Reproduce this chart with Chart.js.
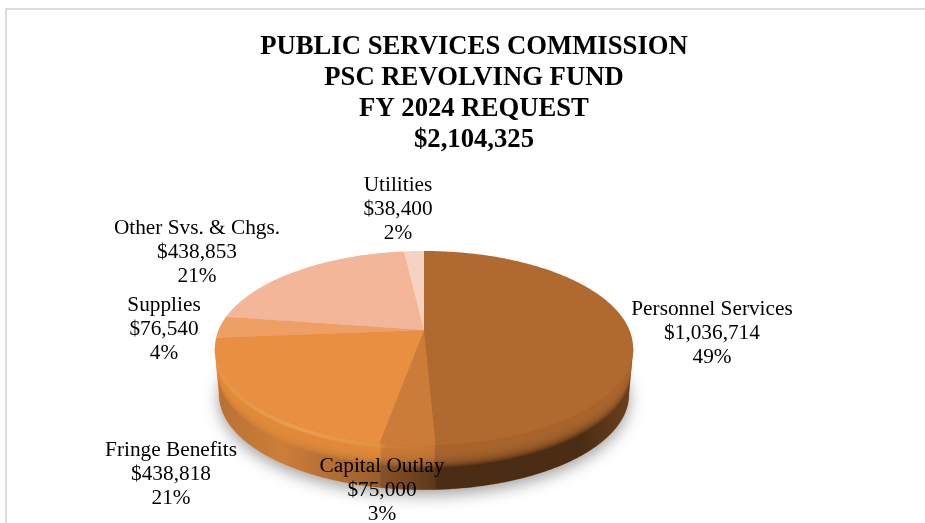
<!DOCTYPE html>
<html lang="en">
<head>
    <meta charset="UTF-8">
    <title>PSC Revolving Fund FY 2024 Request</title>
    <script src="https://cdn.jsdelivr.net/npm/chart.js"></script>
    <style>
        html, body {
            margin: 0;
            background: white;
            overflow: hidden;
        }

        .frame {
            position: absolute;
            left: 5px;
            top: 8px;
            width: 920px;
            height: 515px;
            border-left: 2px solid #dcdcdc;
            border-top: 2px solid #dcdcdc;
            box-sizing: border-box;
        }

        #pie {
            position: absolute;
            left: 0;
            top: 0;
        }
    </style>
</head>
<body>
    <div class="frame"></div>
    <canvas id="pie" width="925" height="523"></canvas>

    <script>
        const titleLines = ['PUBLIC SERVICES COMMISSION', 'PSC REVOLVING FUND', 'FY 2024 REQUEST', '$2,104,325'];
        const categories = ['Personnel Services', 'Capital Outlay', 'Fringe Benefits', 'Supplies', 'Other Svs. & Chgs.', 'Utilities'];
        const amounts = [1036714, 75000, 438818, 76540, 438853, 38400];
        const percents = ['49%', '3%', '21%', '4%', '21%', '2%'];

        const faceColors = ['#b06a2f', '#cc7c39', '#e98f41', '#ed9f66', '#f3b699', '#f5d2c2'];
        // where each label block is centred (x, first line y)
        const labelSpots = [[712, 309], [382, 466], [171, 450], [164, 305], [197, 228], [398, 185]];

        // perspective disc: apex sits above the middle of the ellipse
        const cx = 424, cy = 330, rimA = 205.4, rimB = 93.7, tilt = 0.1857;
        const depth = 47, lowerScale = 0.98;
        // rim is widest here, the wall outline runs between these two angles
        const wallFrom = Math.asin(tilt), wallTo = Math.PI - wallFrom;

        function project(angle, scale, dy) {
            const u = Math.cos(angle), v = Math.sin(angle);
            const w = 1 - tilt * v;
            return [cx + scale * rimA * u / w, cy + dy + scale * rimB * v / w];
        }

        function traceRim(ctx, from, to, scale, dy, join) {
            const steps = Math.max(2, Math.ceil(Math.abs(to - from) / 0.01));
            for (let i = 0; i <= steps; i++) {
                const p = project(from + (to - from) * i / steps, scale, dy);
                if (i === 0 && !join) ctx.moveTo(p[0], p[1]);
                else ctx.lineTo(p[0], p[1]);
            }
        }

        function traceWedge(ctx, arc, dy) {
            // narrows with dy so the bevel stays inside the wall outline
            const scale = 1 - (1 - lowerScale) * dy / depth;
            ctx.beginPath();
            ctx.moveTo(cx, cy + dy);
            traceRim(ctx, arc.startAngle, arc.endAngle, scale, dy, true);
            ctx.closePath();
        }

        function horizontalGradient(ctx, stops) {
            const g = ctx.createLinearGradient(215, 0, 634, 0);
            stops.forEach(s => g.addColorStop((s[0] - 215) / 419, s[1]));
            return g;
        }

        const discPlugin = {
            id: 'disc',
            beforeDatasetDraw(chart) {
                const ctx = chart.ctx;
                const arcs = chart.getDatasetMeta(0).data;
                ctx.save();

                // soft shadow under the disc
                ctx.save();
                ctx.shadowColor = 'rgba(0,0,0,0.38)';
                ctx.shadowBlur = 16;
                ctx.shadowOffsetY = 6;
                ctx.fillStyle = '#8a5a2c';
                ctx.beginPath();
                traceRim(ctx, 0, Math.PI * 2, lowerScale, depth - 1, false);
                ctx.closePath();
                ctx.fill();
                ctx.restore();

                // side wall, front part only
                arcs.forEach((arc, i) => {
                    const from = Math.max(arc.startAngle, wallFrom);
                    const to = Math.min(arc.endAngle, wallTo);
                    if (to <= from) return;
                    ctx.beginPath();
                    traceRim(ctx, from, to, 1, 0, false);
                    traceRim(ctx, to, from, lowerScale, depth, true);
                    ctx.closePath();
                    ctx.fillStyle = faceColors[i];
                    ctx.fill();
                    ctx.strokeStyle = faceColors[i];
                    ctx.lineWidth = 0.5;
                    ctx.stroke();
                });

                // light falling off to the right of the wall
                ctx.beginPath();
                traceRim(ctx, wallFrom, wallTo, 1, 0, false);
                traceRim(ctx, wallTo, wallFrom, lowerScale, depth, true);
                ctx.closePath();
                ctx.fillStyle = horizontalGradient(ctx, [
                    [215, 'rgba(0,0,0,0.21)'], [283, 'rgba(0,0,0,0.12)'], [380, 'rgba(0,0,0,0.34)'],
                    [405, 'rgba(0,0,0,0.42)'], [440, 'rgba(0,0,0,0.58)'], [580, 'rgba(0,0,0,0.58)'],
                    [634, 'rgba(0,0,0,0.38)']
                ]);
                ctx.fill();

                // bevel between wall and face
                for (let d = 24; d >= 1; d--) {
                    arcs.forEach((arc, i) => {
                        traceWedge(ctx, arc, d);
                        ctx.fillStyle = faceColors[i];
                        ctx.globalAlpha = 0.16;
                        ctx.fill();
                    });
                }
                ctx.globalAlpha = 1;

                // highlight along the front rim, left part only
                ctx.beginPath();
                traceRim(ctx, Math.PI / 2, wallTo, 0.998, 3, false);
                ctx.strokeStyle = horizontalGradient(ctx, [
                    [215, 'rgba(255,215,150,0.12)'], [300, 'rgba(255,215,150,0.26)'],
                    [400, 'rgba(255,215,150,0.06)'], [430, 'rgba(255,215,150,0)']
                ]);
                ctx.lineWidth = 4;
                ctx.stroke();

                // top face
                arcs.forEach((arc, i) => {
                    traceWedge(ctx, arc, 0);
                    ctx.fillStyle = faceColors[i];
                    ctx.fill();
                });

                ctx.restore();
                return false;
            },
            afterDatasetsDraw(chart) {
                const ctx = chart.ctx;
                ctx.save();
                ctx.font = '21.3px "Liberation Serif"';
                ctx.fillStyle = '#000';
                ctx.textAlign = 'center';
                ctx.textBaseline = 'middle';
                categories.forEach((name, i) => {
                    const spot = labelSpots[i];
                    ctx.fillText(name, spot[0], spot[1]);
                    ctx.fillText('$' + amounts[i].toLocaleString('en-US'), spot[0], spot[1] + 24.5);
                    ctx.fillText(percents[i], spot[0], spot[1] + 48.5);
                });
                ctx.restore();
            }
        };

        new Chart(document.getElementById('pie'), {
            type: 'pie',
            data: {
                labels: categories,
                datasets: [{
                    data: amounts,
                    backgroundColor: faceColors,
                    borderWidth: 0
                }]
            },
            options: {
                responsive: false,
                animation: false,
                layout: { padding: { left: 23 } },
                plugins: {
                    legend: { display: false },
                    tooltip: { enabled: false },
                    title: {
                        display: true,
                        text: titleLines,
                        color: '#000',
                        font: { family: '"Liberation Serif"', size: 26.7, weight: 'bold', lineHeight: 1.16 },
                        padding: { top: 32, bottom: 0 }
                    }
                }
            },
            plugins: [discPlugin]
        });
    </script>
</body>
</html>
